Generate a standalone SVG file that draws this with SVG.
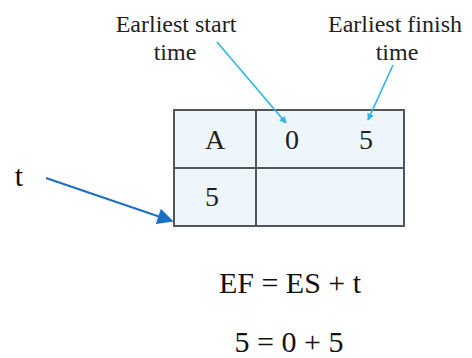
<svg xmlns="http://www.w3.org/2000/svg" width="472" height="358" viewBox="0 0 472 358">
<style>
.cl{fill:none;stroke:#29b5e6;stroke-width:1.6}
</style>
<defs>
<marker id="ha" viewBox="0 0 10 10" refX="9" refY="5" markerWidth="7" markerHeight="7" orient="auto" markerUnits="userSpaceOnUse">
<path d="M0,0 L10,5 L0,10 z" fill="#29b5e6"/>
</marker>
<marker id="hb" viewBox="0 0 10 10" refX="9" refY="5" markerWidth="18" markerHeight="16" orient="auto" markerUnits="userSpaceOnUse">
<path d="M0,0 L10,5 L0,10 z" fill="#1b6fc2"/>
</marker>
</defs>
<g id="table">
<rect x="174" y="110" width="230" height="116" fill="#eef6fc" stroke="#555" stroke-width="2"/>
<line x1="256" y1="110" x2="256" y2="226" stroke="#555" stroke-width="2"/>
<line x1="174" y1="168" x2="404" y2="168" stroke="#555" stroke-width="2"/>
<text font-family="Liberation Serif, serif" font-size="28" fill="#231f20" text-anchor="middle" x="215" y="149">A</text>
<text font-family="Liberation Serif, serif" font-size="28" fill="#231f20" text-anchor="middle" x="292" y="149">0</text>
<text font-family="Liberation Serif, serif" font-size="28" fill="#231f20" text-anchor="middle" x="366" y="149">5</text>
<text font-family="Liberation Serif, serif" font-size="28" fill="#231f20" text-anchor="middle" x="212" y="206">5</text>
</g>
<g id="label-es">
<text font-family="Liberation Serif, serif" font-size="24" fill="#231f20" text-anchor="middle" x="176" y="32">Earliest start</text>
<text font-family="Liberation Serif, serif" font-size="24" fill="#231f20" text-anchor="middle" x="175" y="60">time</text>
</g>
<g id="label-ef">
<text font-family="Liberation Serif, serif" font-size="24" fill="#231f20" text-anchor="middle" x="395" y="32">Earliest finish</text>
<text font-family="Liberation Serif, serif" font-size="24" fill="#231f20" text-anchor="middle" x="397" y="60">time</text>
</g>
<g id="label-t">
<text font-family="Liberation Serif, serif" font-size="30" fill="#111" text-anchor="middle" x="19" y="186">t</text>
</g>
<g id="connectors">
<line class="cl" x1="217" y1="42" x2="286" y2="123" marker-end="url(#ha)"/>
<line class="cl" x1="393" y1="65" x2="368" y2="120" marker-end="url(#ha)"/>
<line x1="46" y1="178" x2="172" y2="221" stroke="#1b6fc2" stroke-width="2" marker-end="url(#hb)"/>
</g>
<g id="equations">
<text font-family="Liberation Serif, serif" font-size="30" fill="#111" text-anchor="middle" x="290" y="293">EF = ES + t</text>
<text font-family="Liberation Serif, serif" font-size="30" fill="#111" text-anchor="middle" x="289" y="352">5 = 0 + 5</text>
</g>
</svg>
